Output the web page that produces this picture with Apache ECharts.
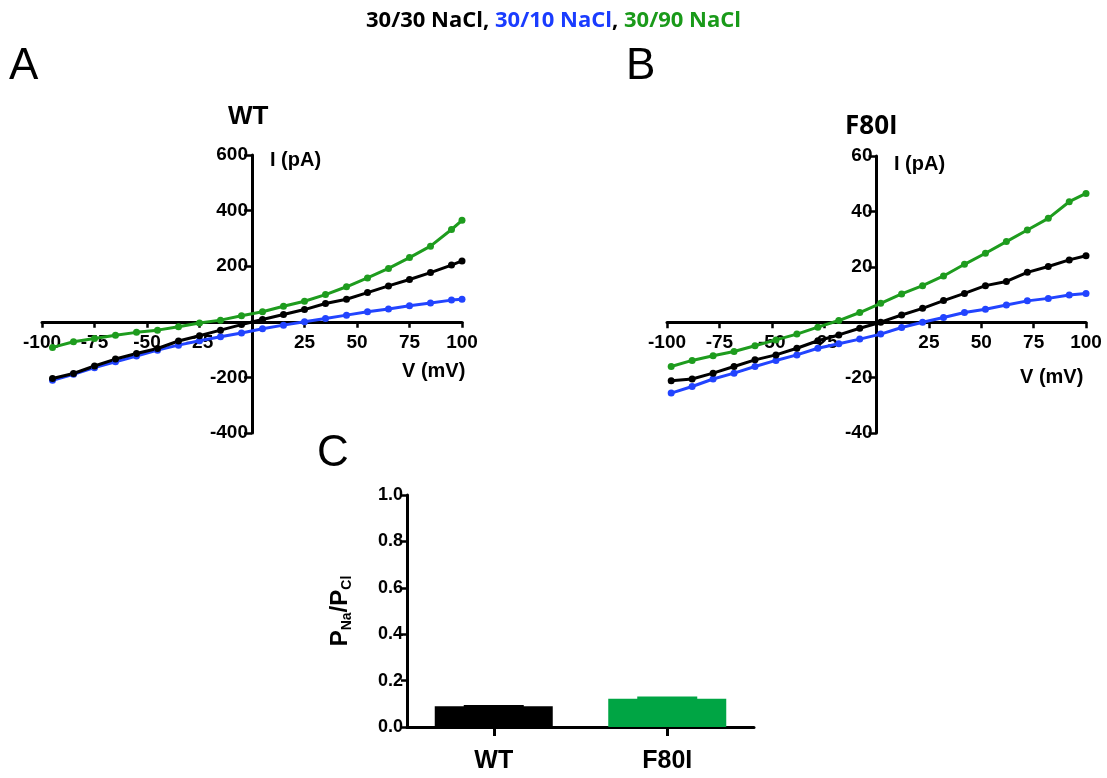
<!DOCTYPE html>
<html>
<head>
<meta charset="utf-8">
<script src="https://cdn.jsdelivr.net/npm/echarts@6/dist/echarts.min.js"></script>
<style>html,body{margin:0;padding:0;background:#fff}#c{width:1107px;height:778px}</style>
</head>
<body>
<div id="c"></div>
<script>
// ---- Data ----
const vA = [-95,-85,-75,-65,-55,-45,-35,-25,-15,-5,5,15,25,35,45,55,65,75,85,95,100];
const wtBlack = [-204,-186,-159,-134,-114,-96,-69,-50,-30,-10,8,26,44,66,81,105,129,152,177,204,219];
const wtBlue  = [-210,-189,-165,-144,-123,-102,-84,-68,-54,-40,-25,-12,0,12,24,36,46,58,68,78,81];
const wtGreen = [-92,-72,-60,-48,-38,-30,-18,-4,6,22,36,56,74,98,126,158,192,231,272,332,365];

const vB = [-98,-88,-78,-68,-58,-48,-38,-28,-18,-8,2,12,22,32,42,52,62,72,82,92,100];
const f80Black = [-21.1,-20.5,-18.4,-16.0,-13.6,-11.8,-9.4,-6.7,-4.6,-2.2,0,2.6,5.0,7.8,10.4,13.2,14.7,18.0,20.1,22.5,24.0];
const f80Blue  = [-25.6,-23.2,-20.5,-18.4,-16.0,-13.8,-11.8,-9.4,-7.8,-6.1,-4.3,-1.9,0,1.7,3.5,4.7,6.2,7.7,8.6,9.8,10.4];
const f80Green = [-16.0,-13.8,-12.1,-10.6,-8.5,-6.4,-4.3,-1.8,0.6,3.5,6.8,10.2,13.2,16.7,20.9,24.9,29.1,33.3,37.5,43.5,46.5];

const barCats = ['WT','F80I'];
const barMeans = [0.089, 0.122];
const barErrs  = [0.006, 0.009];

const cBlack = '#000000', cBlue = '#2244ff', cGreen = '#1e9c1e', cBarGreen = '#00a544';

// ---- Helpers ----
const FONT = '"Liberation Sans", Arial, sans-serif';
const hideZero = v => (v === 0 ? '' : String(v));
function pair(x, y) { return x.map((v, i) => [v, y[i]]); }

function valX(grid, min, max, interval, offset) {
  return {
    type: 'value', gridIndex: grid, min, max, interval,
    position: 'bottom', offset: offset,
    axisLine: { onZero: false, lineStyle: { color: '#000', width: 3 } },
    axisTick: { show: true, length: 6, lineStyle: { color: '#000', width: 2.5 } },
    axisLabel: { formatter: hideZero, color: '#000', fontFamily: FONT, fontWeight: 'bold', fontSize: 19, margin: 11 },
    splitLine: { show: false }
  };
}
function valY(grid, min, max, interval, offset) {
  return {
    type: 'value', gridIndex: grid, min, max, interval,
    position: 'left', offset: offset,
    axisLine: { show: true, onZero: false, lineStyle: { color: '#000', width: 3 } },
    axisTick: { show: true, length: 8, lineStyle: { color: '#000', width: 2.5 } },
    axisLabel: { formatter: hideZero, color: '#000', fontFamily: FONT, fontWeight: 'bold', fontSize: 19, margin: 4 },
    splitLine: { show: false }
  };
}
function lineS(xi, data, color) {
  return {
    type: 'line', xAxisIndex: xi, yAxisIndex: xi, data, color,
    symbol: 'circle', symbolSize: 7, showSymbol: true,
    lineStyle: { width: 3, color }, itemStyle: { color }, z: 3, animation: false
  };
}

const chart = echarts.init(document.getElementById('c'), null, { renderer: 'canvas' });
chart.setOption({
  animation: false,
  backgroundColor: '#fff',
  title: {
    left: 'center', top: 5,
    text: '{k|30/30 NaCl}{k|, }{b|30/10 NaCl}{k|, }{g|30/90 NaCl}',
    textStyle: {
      rich: {
        k: { color: '#000', fontFamily: '"Open Sans", sans-serif', fontWeight: 'bold', fontSize: 22 },
        b: { color: '#1a3cff', fontFamily: '"Open Sans", sans-serif', fontWeight: 'bold', fontSize: 22 },
        g: { color: '#1a9a1a', fontFamily: '"Open Sans", sans-serif', fontWeight: 'bold', fontSize: 22 }
      }
    }
  },
  grid: [
    { left: 42, right: 645, top: 155, bottom: 345 },
    { left: 667, right: 21, top: 156, bottom: 345 },
    { left: 407, right: 353, top: 495, bottom: 51 }
  ],
  xAxis: [
    valX(0, -100, 100, 25, -111.2),
    valX(1, -100, 100, 25, -110.8),
    {
      type: 'category', gridIndex: 2, data: barCats,
      axisLine: { lineStyle: { color: '#000', width: 3 } },
      axisTick: { show: true, alignWithLabel: true, length: 9, lineStyle: { color: '#000', width: 3 } },
      axisLabel: { color: '#000', fontFamily: FONT, fontWeight: 'bold', fontSize: 25, margin: 22 }
    }
  ],
  yAxis: [
    valY(0, -400, 600, 200, -210),
    valY(1, -40, 60, 20, -209.5),
    {
      type: 'value', gridIndex: 2, min: 0, max: 1, interval: 0.2,
      axisLine: { show: true, lineStyle: { color: '#000', width: 3 } },
      axisTick: { show: true, length: 6, lineStyle: { color: '#000', width: 2.5 } },
      axisLabel: { formatter: v => v.toFixed(1), color: '#000', fontFamily: FONT, fontWeight: 'bold', fontSize: 18, margin: 4 },
      splitLine: { show: false },
      name: '{p|P}{s|Na}{p|/P}{s|Cl}',
      nameLocation: 'middle', nameGap: 52, nameRotate: 90,
      nameTextStyle: {
        rich: {
          p: { color: '#000', fontFamily: FONT, fontWeight: 'bold', fontSize: 24, lineHeight: 30 },
          s: { color: '#000', fontFamily: FONT, fontWeight: 'bold', fontSize: 14, lineHeight: 30, padding: [14, 0, 0, 0] }
        }
      }
    }
  ],
  series: [
    lineS(0, pair(vA, wtBlue), cBlue),
    lineS(0, pair(vA, wtBlack), cBlack),
    lineS(0, pair(vA, wtGreen), cGreen),
    lineS(1, pair(vB, f80Blue), cBlue),
    lineS(1, pair(vB, f80Black), cBlack),
    lineS(1, pair(vB, f80Green), cGreen),
    {
      type: 'bar', xAxisIndex: 2, yAxisIndex: 2, barWidth: 118,
      data: barMeans.map((v, i) => ({ value: v, itemStyle: { color: i === 0 ? cBlack : cBarGreen } }))
    },
    {
      type: 'custom', xAxisIndex: 2, yAxisIndex: 2,
      data: barMeans.map((v, i) => [i, v, v + barErrs[i]]),
      renderItem: function (params, api) {
        const lo = api.coord([api.value(0), api.value(1)]);
        const hi = api.coord([api.value(0), api.value(2)]);
        const w = 60;
        return {
          type: 'rect',
          shape: { x: lo[0] - w / 2, y: hi[1], width: w, height: lo[1] - hi[1] + 1 },
          style: { fill: api.value(0) === 0 ? cBlack : cBarGreen }
        };
      },
      z: 4
    }
  ],
  graphic: [
    { type: 'text', left: 9, top: 45, style: { text: 'A', font: '44px ' + FONT, fill: '#000' } },
    { type: 'text', left: 626, top: 45, style: { text: 'B', font: '44px ' + FONT, fill: '#000' } },
    { type: 'text', left: 317, top: 432, style: { text: 'C', font: '44px ' + FONT, fill: '#000' } },
    { type: 'text', left: 228, top: 104, style: { text: 'WT', font: 'bold 26px ' + FONT, fill: '#000' } },
    { type: 'text', left: 845, top: 114, style: { text: 'F80I', font: 'bold 26px "Open Sans", sans-serif', fill: '#000' } },
    { type: 'text', left: 270, top: 150, style: { text: 'I (pA)', font: 'bold 20px ' + FONT, fill: '#000' } },
    { type: 'text', left: 894, top: 154, style: { text: 'I (pA)', font: 'bold 20px ' + FONT, fill: '#000' } },
    { type: 'text', left: 402, top: 361, style: { text: 'V (mV)', font: 'bold 20px ' + FONT, fill: '#000' } },
    { type: 'text', left: 1020, top: 367, style: { text: 'V (mV)', font: 'bold 20px ' + FONT, fill: '#000' } }
  ]
});
</script>
</body>
</html>
